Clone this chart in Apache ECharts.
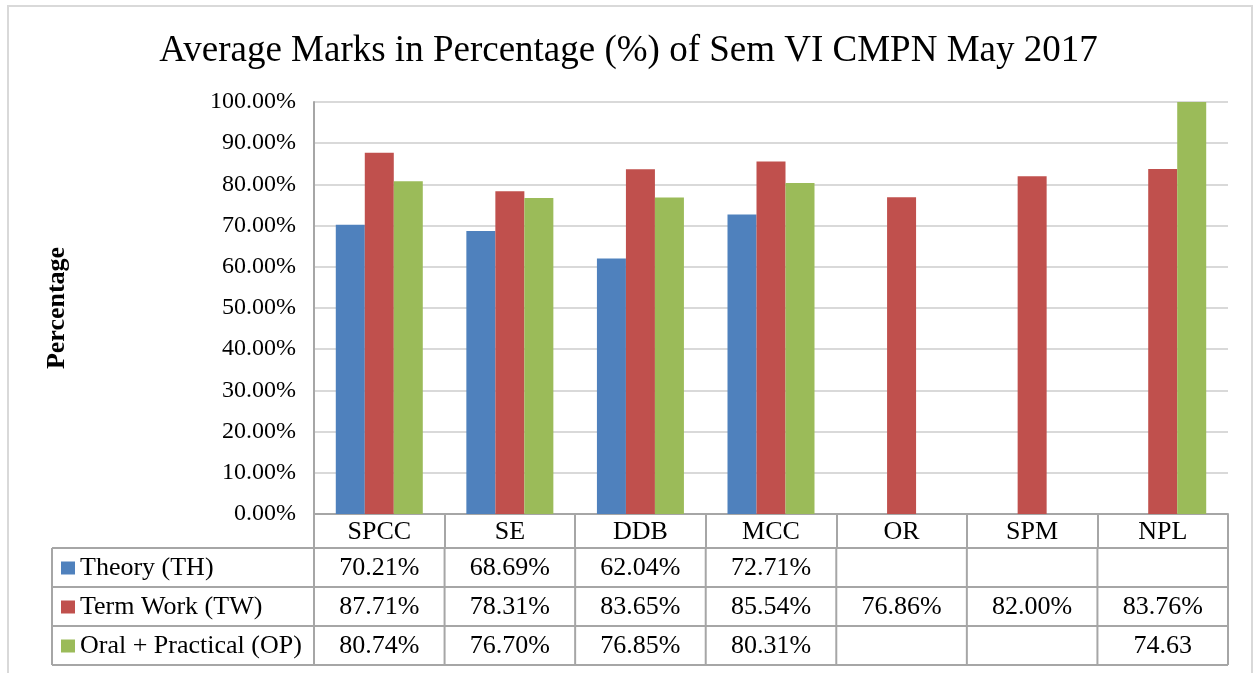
<!DOCTYPE html>
<html>
<head>
<meta charset="utf-8">
<script src="https://cdn.jsdelivr.net/npm/echarts@6/dist/echarts.min.js"></script>
<style>
    html, body { margin: 0; padding: 0; background: #fff; }
    #chart { width: 1257px; height: 673px; }
</style>
</head>
<body>
<div id="chart"></div>
<script>
// data (fractions, like the spreadsheet)
const subjects = ['SPCC', 'SE', 'DDB', 'MCC', 'OR', 'SPM', 'NPL']
const seriesNames = ['Theory (TH)', 'Term Work (TW)', 'Oral + Practical (OP)']
const theory = [0.7021, 0.6869, 0.6204, 0.7271, null, null, null]
const termWork = [0.8771, 0.7831, 0.8365, 0.8554, 0.7686, 0.8200, 0.8376]
// NPL was typed as 74.63 (general number), so its bar runs off the top
const oralPractical = [0.8074, 0.7670, 0.7685, 0.8031, null, null, 74.63]
const yTicks = [0, 0.1, 0.2, 0.3, 0.4, 0.5, 0.6, 0.7, 0.8, 0.9, 1]

const colors = ['#4f81bd', '#c0504d', '#9bbb59']
const serif = '"Liberation Serif", "Times New Roman", serif'
const lineColor = '#a6a6a6'

const chart = echarts.init(document.getElementById('chart'))

function cellText(v) {
    if (v == null) return ''
    if (v > 1) return v.toFixed(2)
    return (v * 100).toFixed(2) + '%'
}

const option = {
    animation: false,
    color: colors,
    title: {
        text: 'Average Marks in Percentage (%) of Sem VI CMPN May 2017',
        left: 'center',
        top: 28,
        textStyle: {
            fontFamily: serif,
            fontWeight: 'normal',
            fontSize: 37,
            color: '#000'
        }
    },
    grid: {
        left: 314,
        right: 29,
        top: 102,
        bottom: 159
    },
    xAxis: {
        type: 'category',
        data: subjects,
        axisLine: { lineStyle: { color: lineColor, width: 2 } },
        axisTick: { show: true, length: 34, lineStyle: { color: lineColor, width: 2 } },
        axisLabel: {
            margin: 5,
            fontFamily: serif,
            fontSize: 26,
            color: '#000'
        }
    },
    yAxis: {
        type: 'value',
        min: yTicks[0],
        max: yTicks[yTicks.length - 1],
        interval: 0.1,
        name: 'Percentage',
        nameLocation: 'middle',
        nameGap: 244,
        nameRotate: 90,
        nameTextStyle: {
            fontFamily: serif,
            fontWeight: 'bold',
            fontSize: 26,
            color: '#000'
        },
        axisLine: { show: true, lineStyle: { color: lineColor, width: 2 } },
        axisTick: { show: false },
        axisLabel: {
            margin: 18,
            fontFamily: serif,
            fontSize: 24,
            color: '#000',
            formatter: v => (v * 100).toFixed(2) + '%'
        },
        splitLine: { lineStyle: { color: '#d9d9d9', width: 2 } }
    },
    series: [
        { name: seriesNames[0], type: 'bar', data: theory, barWidth: 29, barGap: '0%', clip: true },
        { name: seriesNames[1], type: 'bar', data: termWork, barWidth: 29, barGap: '0%', clip: true },
        { name: seriesNames[2], type: 'bar', data: oralPractical, barWidth: 29, barGap: '0%', clip: true }
    ]
}
chart.setOption(option)

// data table under the axis
function drawTable() {
    const rowTops = [548, 587, 626, 665]
    const tableLeft = 52
    const x0 = chart.convertToPixel({ xAxisIndex: 0 }, 0)
    const x1 = chart.convertToPixel({ xAxisIndex: 0 }, 1)
    const band = x1 - x0
    const left = x0 - band / 2
    const right = left + band * subjects.length
    const els = []

    // outer frame of the whole chart
    els.push({
        type: 'rect',
        shape: { x: 8, y: 6, width: 1244, height: 680 },
        style: { fill: 'none', stroke: '#d9d9d9', lineWidth: 2 },
        silent: true
    })

    rowTops.forEach(y => {
        els.push({
            type: 'line',
            shape: { x1: tableLeft, y1: y, x2: right, y2: y },
            style: { stroke: lineColor, lineWidth: 2 }
        })
    })
    const vx = [tableLeft]
    for (let i = 0; i <= subjects.length; i++) vx.push(left + band * i)
    vx.forEach(x => {
        els.push({
            type: 'line',
            shape: { x1: x, y1: rowTops[0], x2: x, y2: rowTops[3] },
            style: { stroke: lineColor, lineWidth: 2 }
        })
    })

    const rows = [theory, termWork, oralPractical]
    rows.forEach((vals, r) => {
        const cy = (rowTops[r] + rowTops[r + 1]) / 2 + 1
        els.push({
            type: 'rect',
            shape: { x: 61, y: cy - 7, width: 14, height: 13 },
            style: { fill: colors[r] }
        })
        els.push({
            type: 'text',
            style: {
                text: seriesNames[r],
                x: 80, y: cy,
                align: 'left', verticalAlign: 'middle',
                fontFamily: serif, fontSize: 26, fill: '#000'
            }
        })
        vals.forEach((v, i) => {
            els.push({
                type: 'text',
                style: {
                    text: cellText(v),
                    x: left + band * (i + 0.5), y: cy,
                    align: 'center', verticalAlign: 'middle',
                    fontFamily: serif, fontSize: 26, fill: '#000'
                }
            })
        })
    })
    chart.setOption({ graphic: { elements: els } })
}
drawTable()
</script>
</body>
</html>
